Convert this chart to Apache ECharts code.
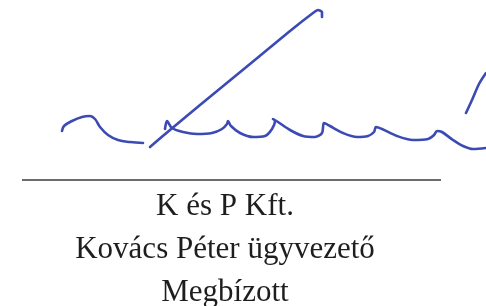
<!DOCTYPE html>
<html>
<head>
<meta charset="utf-8">
<script src="https://cdn.jsdelivr.net/npm/echarts@6/dist/echarts.min.js"></script>
<style>
  html, body { margin: 0; padding: 0; background: #fff; }
  #main { width: 486px; height: 306px; }
</style>
</head>
<body>
<div id="main"></div>
<script>
// aláírás vonásai (kép koordinátákban, y lefelé nő)
var flourish = [[62,131],[64,126],[72,121],[82,117],[90,116],[95,119],[100,127],[108,135],[118,140],[130,142],[143,143]];
var diagonal = [[150,147],[170,130],[200,105],[250,64],[290,31],[313,13],[318,10],[322,12],[322,17]];
var waves = [[165,129],[167,121],[172,128],[183,132],[197,134],[212,133],[222,129],[227,124],[228,121],[231,126],
  [240,133],[253,137],[265,136],[272,129],[275,121],[273,119],[278,122],[290,130],[303,136],[315,137],[322,133],
  [324,123],[330,126],[343,133],[357,137],[368,136],[374,132],[376,127],[382,129],[397,136],[413,140],[428,139],
  [434,135],[437,131],[442,132],[453,140],[463,146],[473,149],[486,148]];
var tail = [[466,113],[472,100],[479,84],[486,73]];
var ruleLine = [[22,180],[441,180]];
var labels = ['K és P Kft.', 'Kovács Péter ügyvezető', 'Megbízott'];
var labelBaselines = [215, 258, 301];

var chart = echarts.init(document.getElementById('main'));
var ink = '#3c4ab4';

function stroke(data, smooth) {
  return {
    type: 'line',
    data: data,
    smooth: smooth,
    symbol: 'none',
    silent: true,
    lineStyle: { color: ink, width: 2.6, cap: 'round', join: 'round' }
  };
}

var option = {
  backgroundColor: '#ffffff',
  animation: false,
  grid: { left: 0, right: 0, top: 0, bottom: 0 },
  xAxis: { type: 'value', min: 0, max: 486, show: false },
  yAxis: { type: 'value', min: 0, max: 306, inverse: true, show: false },
  series: [
    stroke(flourish, 0.4),
    stroke(diagonal, 0.2),
    stroke(waves, 0.3),
    stroke(tail, 0.3),
    {
      type: 'line',
      data: ruleLine,
      symbol: 'none',
      silent: true,
      lineStyle: { color: '#3a3a3a', width: 1.6 }
    }
  ],
  graphic: labels.map(function (t, i) {
    return {
      type: 'text',
      left: 'center',
      x: 225,
      y: labelBaselines[i] - 24,
      style: {
        text: t,
        font: '31px "Liberation Serif"',
        fill: '#1e1e1e',
        textAlign: 'center'
      }
    };
  })
};
// center the text on x=225 instead of page center
option.graphic.forEach(function (g) { delete g.left; });
chart.setOption(option);
</script>
</body>
</html>
